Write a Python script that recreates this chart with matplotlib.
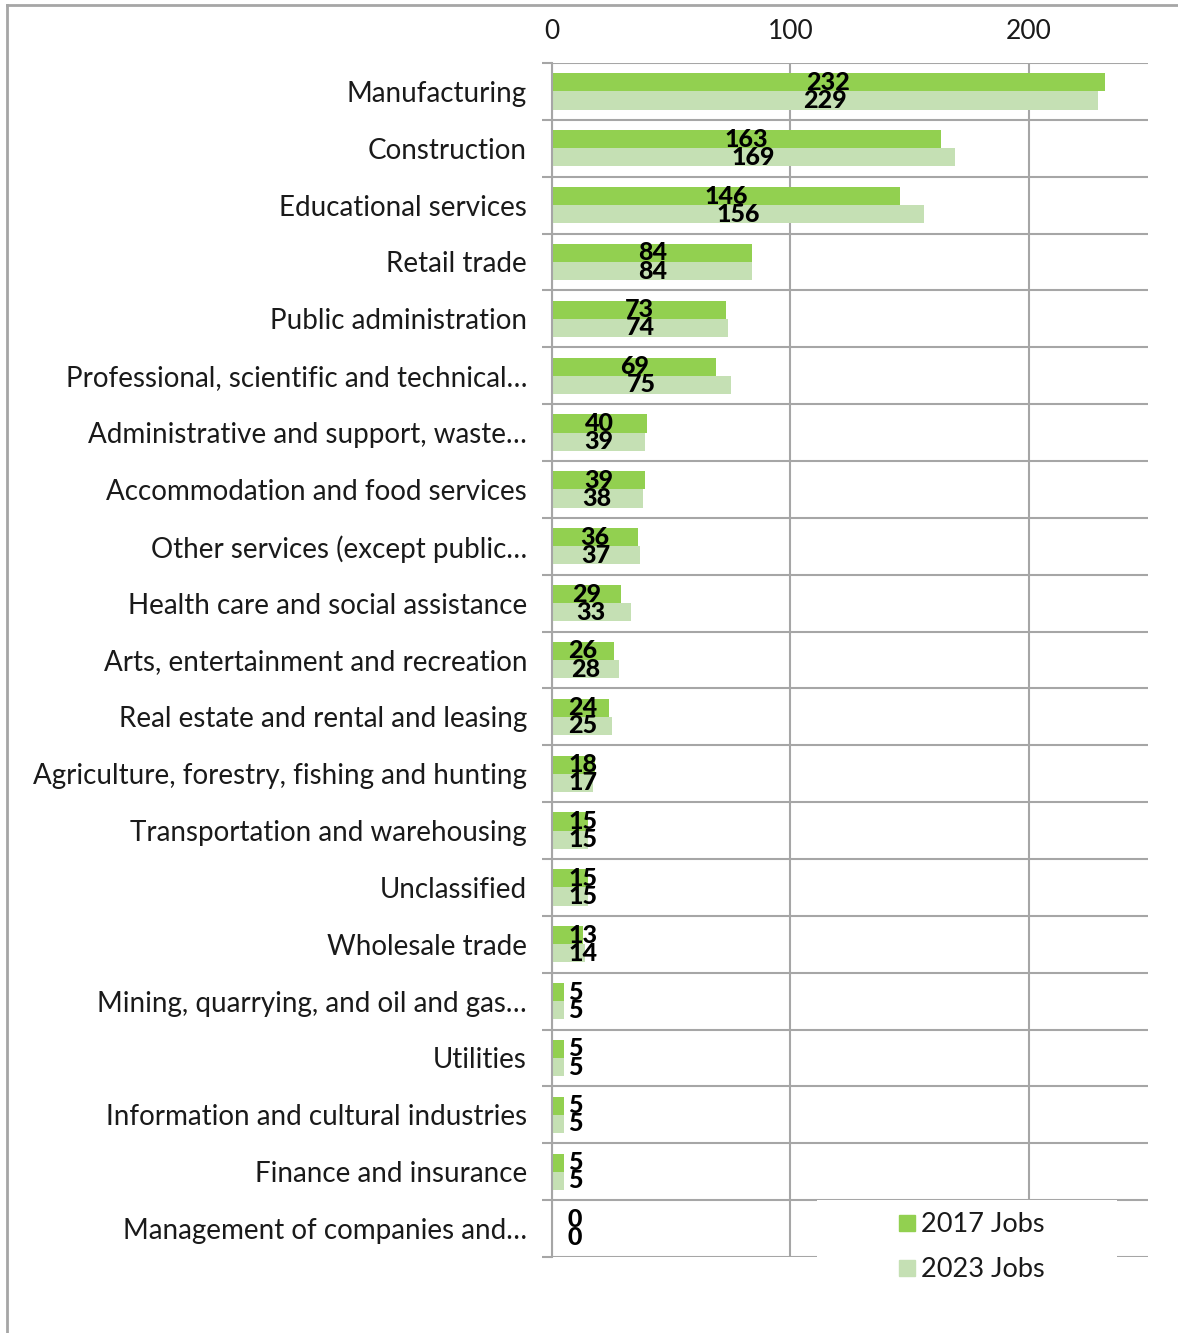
import matplotlib
matplotlib.use("Agg")
import matplotlib.pyplot as plt
from matplotlib.lines import Line2D
from matplotlib.patches import Rectangle
import numpy as np

plt.rcParams['font.family'] = ['Lato', 'DejaVu Sans']

categories = [
    "Manufacturing",
    "Construction",
    "Educational services",
    "Retail trade",
    "Public administration",
    "Professional, scientific and technical…",
    "Administrative and support, waste…",
    "Accommodation and food services",
    "Other services (except public…",
    "Health care and social assistance",
    "Arts, entertainment and recreation",
    "Real estate and rental and leasing",
    "Agriculture, forestry, fishing and hunting",
    "Transportation and warehousing",
    "Unclassified",
    "Wholesale trade",
    "Mining, quarrying, and oil and gas…",
    "Utilities",
    "Information and cultural industries",
    "Finance and insurance",
    "Management of companies and…",
]
jobs_2017 = [232, 163, 146, 84, 73, 69, 40, 39, 36, 29, 26, 24, 18, 15, 15, 13, 5, 5, 5, 5, 0]
jobs_2023 = [229, 169, 156, 84, 74, 75, 39, 38, 37, 33, 28, 25, 17, 15, 15, 14, 5, 5, 5, 5, 0]
series_names = ["2017 Jobs", "2023 Jobs"]
x_ticks = [0, 100, 200]

c2017 = "#92D050"
c2023 = "#C5E0B4"
grid_c = "#A6A6A6"
text_c = "#1a1a1a"

W, H = 1178, 1333
fig = plt.figure(figsize=(W / 100, H / 100), dpi=100)
ax = fig.add_axes([552 / W, 1 - 1257 / H, (1148 - 552) / W, (1257 - 63) / H])

n = len(categories)
y = np.arange(n)
bh = 0.32
ax.barh(y - bh / 2, jobs_2017, height=bh, color=c2017, zorder=3, label=series_names[0])
ax.barh(y + bh / 2, jobs_2023, height=bh, color=c2023, zorder=3, label=series_names[1])

ax.set_xlim(0, 250)
ax.set_ylim(n - 0.5, -0.5)

# category labels at centres, tick marks at category boundaries
ax.set_yticks(y)
ax.set_yticklabels(categories, fontsize=20, color=text_c)
ax.tick_params(axis='y', which='major', length=0, pad=18)
ax.set_yticks(np.arange(-0.5, n, 1.0), minor=True)
ax.tick_params(axis='y', which='minor', length=7, color=grid_c, width=1.5)
ax.yaxis.grid(True, which='minor', color=grid_c, linewidth=1.5, zorder=1)

ax.xaxis.tick_top()
ax.set_xticks(x_ticks)
ax.set_xticklabels([str(t) for t in x_ticks], fontsize=19, color=text_c)
ax.tick_params(axis='x', length=0, pad=14)
ax.xaxis.grid(True, color=grid_c, linewidth=1.5, zorder=1)

for s in ["top", "right", "bottom"]:
    ax.spines[s].set_visible(False)
ax.spines["left"].set_color(grid_c)
ax.spines["left"].set_linewidth(1.5)
ax.spines["left"].set_zorder(4)

# value labels, centred on each bar but kept clear of the axis line
fig.canvas.draw()
renderer = fig.canvas.get_renderer()
x0_px = ax.transData.transform((0, 0))[0]
min_gap = 16
for vals, off in ((jobs_2017, -bh / 2), (jobs_2023, bh / 2)):
    for i, v in enumerate(vals):
        t = ax.text(v / 2, i + off, str(v), ha='center', va='center',
                    fontsize=18, fontweight='black', color='black', zorder=5)
        bb = t.get_window_extent(renderer)
        if bb.x0 < x0_px + min_gap:
            cx = x0_px + min_gap + bb.width / 2
            t.set_x(ax.transData.inverted().transform((cx, 0))[0])

# legend on a white panel in the lower right
fig.add_artist(Rectangle((817 / W, 0), 300 / W, 133 / H, transform=fig.transFigure,
                         facecolor='white', edgecolor='none', zorder=8))
handles = [Line2D([], [], marker='s', linestyle='', markersize=11, color=c) for c in (c2017, c2023)]
leg = fig.legend(handles, series_names, loc='upper left',
                 bbox_to_anchor=(893 / W, 1 - 1212 / H),
                 fontsize=19.5, frameon=False, borderpad=0,
                 handletextpad=0.05, handlelength=1.0, labelspacing=0.75,
                 borderaxespad=0)
leg.set_zorder(10)
for txt in leg.get_texts():
    txt.set_color(text_c)

# outer border of the chart area
fig.add_artist(Line2D([7 / W, 1], [1 - 5 / H, 1 - 5 / H], color="#A6A6A6", lw=2, transform=fig.transFigure))
fig.add_artist(Line2D([7 / W, 7 / W], [0, 1 - 5 / H], color="#A6A6A6", lw=2, transform=fig.transFigure))

fig.savefig("out.png", dpi=100, facecolor="white")
